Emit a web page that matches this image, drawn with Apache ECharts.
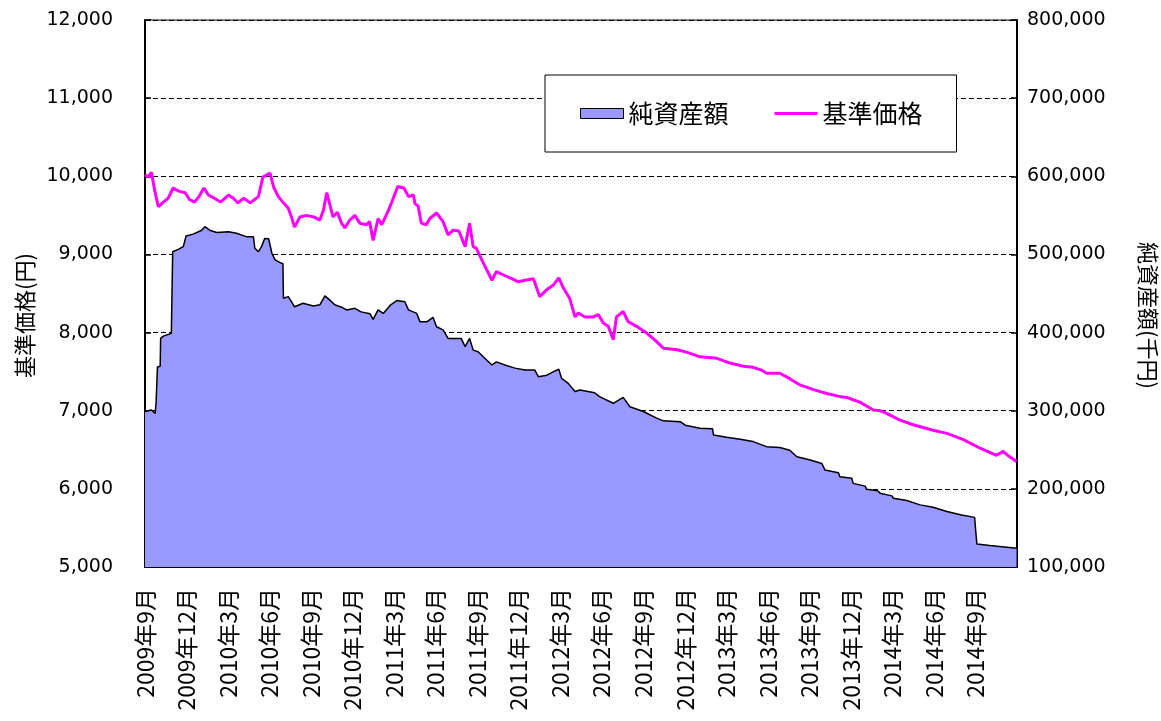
<!DOCTYPE html>
<html>
<head>
<meta charset="utf-8">
<script src="https://cdn.jsdelivr.net/npm/echarts@6/dist/echarts.min.js"></script>
<style>
html,body{margin:0;padding:0;background:#fff;}
#chart{width:1161px;height:721px;}
</style>
</head>
<body>
<div id="chart"></div>
<script>
// X tick labels (every 3 months from Sep 2009)
const xTickLabels = ['2009年9月','2009年12月','2010年3月','2010年6月','2010年9月','2010年12月',
  '2011年3月','2011年6月','2011年9月','2011年12月','2012年3月','2012年6月','2012年9月','2012年12月',
  '2013年3月','2013年6月','2013年9月','2013年12月','2014年3月','2014年6月','2014年9月'];

// 基準価格 (円)
const priceDates = ['2009-09-01','2009-09-08','2009-09-15','2009-09-23','2009-09-30','2009-10-11','2009-10-22',
  '2009-11-02','2009-11-14','2009-11-28','2009-12-08','2009-12-19','2009-12-29','2010-01-09','2010-01-19',
  '2010-02-01','2010-02-14','2010-03-02','2010-03-13','2010-03-23','2010-04-05','2010-04-19','2010-04-28',
  '2010-05-07','2010-05-17','2010-06-02','2010-06-10','2010-06-20','2010-07-01','2010-07-12','2010-07-19',
  '2010-07-26','2010-08-07','2010-08-21','2010-09-07','2010-09-20','2010-09-28','2010-10-05','2010-10-11',
  '2010-10-19','2010-10-29','2010-11-07','2010-11-14','2010-11-25','2010-12-06','2010-12-17','2011-01-01',
  '2011-01-08','2011-01-16','2011-01-27','2011-02-04','2011-02-18','2011-02-25','2011-03-09','2011-03-23',
  '2011-04-02','2011-04-13','2011-04-16','2011-04-23','2011-04-30','2011-05-11','2011-05-19','2011-06-03',
  '2011-06-17','2011-06-28','2011-07-09','2011-07-22','2011-08-05','2011-08-15','2011-08-23','2011-08-30',
  '2011-09-11','2011-09-22','2011-10-03','2011-10-13','2011-10-28','2011-11-16','2011-11-30','2011-12-15',
  '2012-01-03','2012-01-17','2012-02-02','2012-02-16','2012-02-27','2012-03-08','2012-03-22','2012-04-03',
  '2012-04-10','2012-04-25','2012-05-13','2012-05-24','2012-06-05','2012-06-15','2012-06-26','2012-07-03',
  '2012-07-18','2012-07-29','2012-08-17','2012-09-09','2012-09-27','2012-10-15','2012-11-14','2012-12-05',
  '2013-01-04','2013-02-10','2013-03-09','2013-04-08','2013-04-29','2013-05-18','2013-05-29','2013-06-27',
  '2013-07-19','2013-08-11','2013-09-10','2013-10-09','2013-11-08','2013-11-22','2013-12-06','2013-12-21',
  '2014-01-05','2014-01-20','2014-02-04','2014-02-19','2014-03-18','2014-04-16','2014-05-30','2014-06-29',
  '2014-08-05','2014-09-11','2014-10-17','2014-11-01','2014-11-13','2014-11-30'];
const priceValues = [10020,9990,10050,9790,9610,9670,9720,
  9850,9810,9790,9700,9670,9740,9850,9760,
  9720,9670,9760,9720,9660,9720,9660,9700,
  9740,9990,10040,9860,9740,9660,9590,9480,
  9350,9480,9500,9480,9440,9570,9790,9660,
  9480,9540,9400,9340,9440,9500,9400,9380,
  9420,9180,9460,9380,9570,9680,9870,9850,
  9740,9760,9650,9620,9400,9380,9460,9530,
  9420,9250,9310,9300,9100,9400,9100,9080,
  8930,8800,8670,8780,8740,8690,8650,8670,
  8690,8460,8550,8610,8700,8570,8440,8200,
  8250,8200,8200,8230,8120,8080,7910,8200,
  8270,8140,8080,7990,7900,7800,7780,7750,
  7690,7670,7610,7570,7555,7520,7480,7480,
  7410,7330,7270,7220,7180,7170,7140,7110,
  7060,7010,7000,6960,6880,6820,6750,6710,
  6630,6520,6430,6480,6420,6350];

// 純資産額 (千円)
const assetDates = ['2009-09-01','2009-09-15','2009-09-23','2009-09-25','2009-09-28','2009-10-04','2009-10-05',
  '2009-10-11','2009-10-29','2009-11-01','2009-11-13','2009-11-24','2009-11-30','2009-12-16','2010-01-04',
  '2010-01-11','2010-01-22','2010-02-06','2010-03-02','2010-03-20','2010-04-12','2010-04-26','2010-04-29',
  '2010-05-07','2010-05-14','2010-05-21','2010-05-30','2010-06-06','2010-06-13','2010-06-24','2010-06-30',
  '2010-07-01','2010-07-12','2010-07-26','2010-08-14','2010-09-06','2010-09-20','2010-10-01','2010-10-12',
  '2010-10-23','2010-11-07','2010-11-18','2010-12-06','2010-12-20','2011-01-09','2011-01-16','2011-01-27',
  '2011-02-07','2011-02-22','2011-03-07','2011-03-25','2011-04-02','2011-04-20','2011-04-27','2011-05-13',
  '2011-05-26','2011-06-03','2011-06-17','2011-06-28','2011-07-09','2011-07-27','2011-08-05','2011-08-15',
  '2011-08-23','2011-09-03','2011-09-14','2011-10-03','2011-10-13','2011-11-01','2011-11-23','2011-12-15',
  '2012-01-06','2012-01-14','2012-02-02','2012-02-16','2012-02-27','2012-03-04','2012-03-19','2012-04-03',
  '2012-04-14','2012-05-16','2012-05-27','2012-06-26','2012-07-18','2012-08-02','2012-09-01','2012-09-30',
  '2012-10-15','2012-11-21','2012-12-02','2013-01-04','2013-02-01','2013-02-03','2013-03-02','2013-04-01',
  '2013-04-29','2013-05-29','2013-06-27','2013-07-19','2013-08-04','2013-09-03','2013-09-28','2013-10-05',
  '2013-11-04','2013-11-07','2013-12-03','2013-12-06','2014-01-02','2014-01-05','2014-01-30','2014-02-04',
  '2014-02-28','2014-03-03','2014-04-02','2014-05-01','2014-05-30','2014-06-29','2014-08-01','2014-08-30',
  '2014-09-04','2014-10-02','2014-11-30'];
const assetValues = [299000,301000,296500,310000,356000,357000,392500,
  395500,399000,503500,506500,510000,523500,526000,531000,
  535500,531000,528000,529000,527000,522500,522500,508000,
  503500,510000,520500,520000,501500,493000,489500,488000,
  444000,446000,433000,437500,434000,435500,447000,441500,
  435500,432500,429000,431000,426500,424000,417000,429000,
  424500,435500,441000,439500,429000,424500,414000,414000,
  419500,407500,403500,392500,392500,392500,382000,392500,
  377500,375500,369000,358500,362500,358500,354500,352000,
  352000,343500,345500,350000,353000,341500,335000,324500,
  326500,323000,318000,309500,317000,305000,299000,290500,
  287000,286000,281500,277500,277000,269000,266000,263500,
  260500,254000,253000,249500,241000,237000,232500,224000,
  220500,215500,213500,207000,203500,199500,197500,194500,
  191000,188000,185000,179500,176500,171000,166500,163500,
  129500,127500,124000];

const DIM = [31,28,31,30,31,30,31,31,30,31,30,31];
function monthIndex(s){
  const [y,m,d] = s.split('-').map(Number);
  let dim = DIM[m-1];
  if (m===2 && y%4===0) dim = 29;
  return (y-2009)*12 + (m-9) + (d-1)/dim;
}
const priceData = priceDates.map((d,i)=>[monthIndex(d), priceValues[i]]);
const assetData = assetDates.map((d,i)=>[monthIndex(d), assetValues[i]]);

const FONT = '"DejaVu Sans","Noto Sans CJK JP",sans-serif';
const CJK = '"Noto Sans CJK JP",sans-serif';

const chart = echarts.init(document.getElementById('chart'), null, {renderer:'canvas'});
chart.setOption({
  animation:false,
  backgroundColor:'#fff',
  grid:{left:145,right:144,top:20,bottom:154,show:true,borderColor:'#000',borderWidth:1,
    backgroundColor:'transparent',containLabel:false,outerBoundsMode:'none'},
  legend:{
    left:545, top:75,
    padding:[26,34,26,35],
    itemGap:46, itemWidth:43, itemHeight:10,
    borderColor:'#000', borderWidth:1, backgroundColor:'#fff',
    textStyle:{fontFamily:CJK,fontSize:25,color:'#000'},
    data:[
      {name:'純資産額',icon:'rect',itemStyle:{color:'#9999ff',borderColor:'#000',borderWidth:1}},
      {name:'基準価格',icon:'path://M0,0H43V3H0Z',itemStyle:{color:'#ff00ff',borderWidth:0}}
    ]
  },
  xAxis:{
    type:'value', min:0, max:63, interval:3,
    axisLine:{show:true,lineStyle:{color:'#000',width:2}},
    axisTick:{show:true,inside:true,length:6,lineStyle:{color:'#000',width:1.5}},
    splitLine:{show:false},
    axisLabel:{rotate:90,margin:21,fontFamily:CJK,fontSize:23,color:'#000',
      formatter:v=>xTickLabels[Math.round(v/3)]||''}
  },
  yAxis:[{
    type:'value', min:5000, max:12000, interval:1000, position:'left',
    name:'基準価格(円)', nameLocation:'middle', nameGap:108, nameRotate:90,
    nameTextStyle:{fontFamily:CJK,fontSize:22,color:'#000',padding:[0,44,0,0]},
    axisLine:{show:true,lineStyle:{color:'#000',width:2}},
    axisTick:{show:true,inside:true,length:6,lineStyle:{color:'#000',width:1.5}},
    splitLine:{show:true,lineStyle:{color:'#000',width:1,type:[5,3]}},
    axisLabel:{margin:32,fontFamily:FONT,fontSize:19,color:'#000',
      formatter:v=>v.toLocaleString('en-US')}
  },{
    type:'value', min:100000, max:800000, interval:100000, position:'right',
    name:'純資産額(千円)', nameLocation:'middle', nameGap:120, nameRotate:-90,
    nameTextStyle:{fontFamily:CJK,fontSize:22,color:'#000',padding:[0,0,0,44]},
    axisLine:{show:true,lineStyle:{color:'#000',width:2}},
    axisTick:{show:true,inside:true,length:6,lineStyle:{color:'#000',width:1.5}},
    splitLine:{show:false},
    axisLabel:{margin:10,fontFamily:FONT,fontSize:19,color:'#000',
      formatter:v=>v.toLocaleString('en-US')}
  }],
  series:[{
    name:'純資産額', type:'line', yAxisIndex:1, data:assetData,
    symbol:'none', showSymbol:false, z:2,
    lineStyle:{color:'#000',width:1.5},
    itemStyle:{color:'#9999ff'},
    areaStyle:{color:'#9999ff',opacity:1,origin:'start'}
  },{
    name:'基準価格', type:'line', yAxisIndex:0, data:priceData,
    symbol:'none', showSymbol:false, z:3,
    lineStyle:{color:'#ff00ff',width:3},
    itemStyle:{color:'#ff00ff'}
  }]
});
</script>
</body>
</html>
